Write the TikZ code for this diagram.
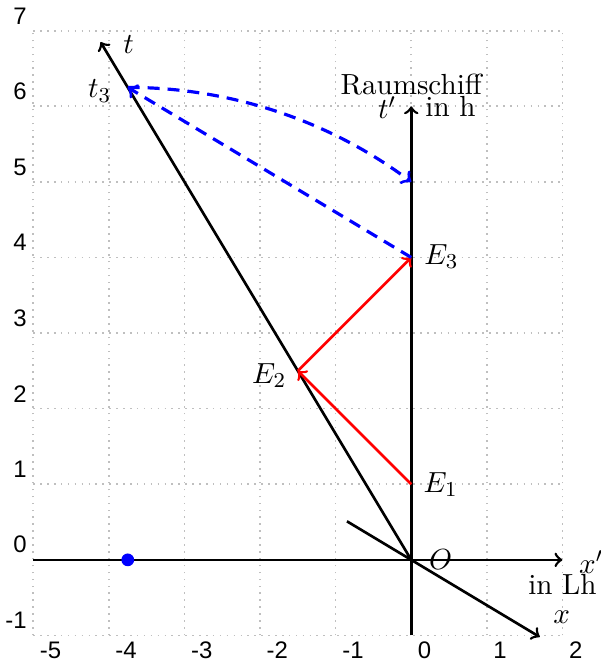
\documentclass[11pt,tikz,border=0pt]{standalone}
\usepackage{fontspec}
\newfontfamily\ticksfont{Liberation Sans}
\tikzset{
  axis/.style={->, line width=1pt},
  signal/.style={->, red, line width=1pt},
  simline/.style={->, blue, line width=1.2pt, dash pattern=on 4.5pt off 3pt},
  ticklabel/.style={font=\ticksfont\fontsize{9}{10}\selectfont, inner sep=2.3pt},
}
\begin{document}
\begin{tikzpicture}
  \useasboundingbox (-5.44,-1.351) rectangle (2.497,7.406);
  \draw[gray!50, dotted, line width=0.6pt] (-5,-1) grid (2,7);
  \foreach \x [count=\i] in {-5,...,2}
    \node[ticklabel, below right] (tx\i) at (\x,-1) {\x};
  \foreach \y [count=\i] in {-1,...,7}
    \node[ticklabel, above left] (ty\i) at (-5,\y) {\y};

  % events
  \coordinate (O) at (0,0);
  \coordinate (E1) at (0,1);
  \coordinate (E2) at (-1.5,2.5);
  \coordinate (E3) at (0,4);
  \coordinate (T3) at (-3.75,6.25);
  \coordinate (F) at (0,5);
  \coordinate (M) at (-3.75,0);
  % axis ends
  \coordinate (xs) at (-5,0);
  \coordinate (xe) at (2,0);
  \coordinate (ts) at (0,-1);
  \coordinate (te) at (0,6);
  \coordinate (tte) at (-4.11,6.85);
  \coordinate (xxs) at (-0.85,0.51);
  \coordinate (xxe) at (1.7,-1.02);

  \draw[axis] (xs) -- (xe);
  \draw[axis] (ts) -- (te);
  \draw[axis] (O) -- (tte);
  \draw[axis] (xxs) -- (xxe);

  \draw[signal] (E1) -- (E2);
  \draw[signal] (E2) -- (E3);

  \draw[simline] (E3) -- (T3);
  \draw[simline] (T3) arc[start angle=90, end angle=53.13, radius=6.25];
  \fill[blue] (M) circle (2.4pt);

  \node (lt) at (-3.74,6.81) {$t$};
  \node (lt3) at (-4.12,6.2) {$t_3$};
  \node (lE1) at (0.39,1) {$E_1$};
  \node (lE2) at (-1.88,2.44) {$E_2$};
  \node (lE3) at (0.4,4.01) {$E_3$};
  \node (lO) at (0.39,0) {$O$};
  \node (ltp) at (-0.32,5.98) {$t'$};
  \node (lh) at (0.52,6) {in h};
  \node (lship) at (0,6.29) {Raumschiff};
  \node (lxp) at (2.38,-0.03) {$x'$};
  \node (lLh) at (2,-0.33) {in Lh};
  \node (lx) at (1.99,-0.76) {$x$};
\end{tikzpicture}
\end{document}
